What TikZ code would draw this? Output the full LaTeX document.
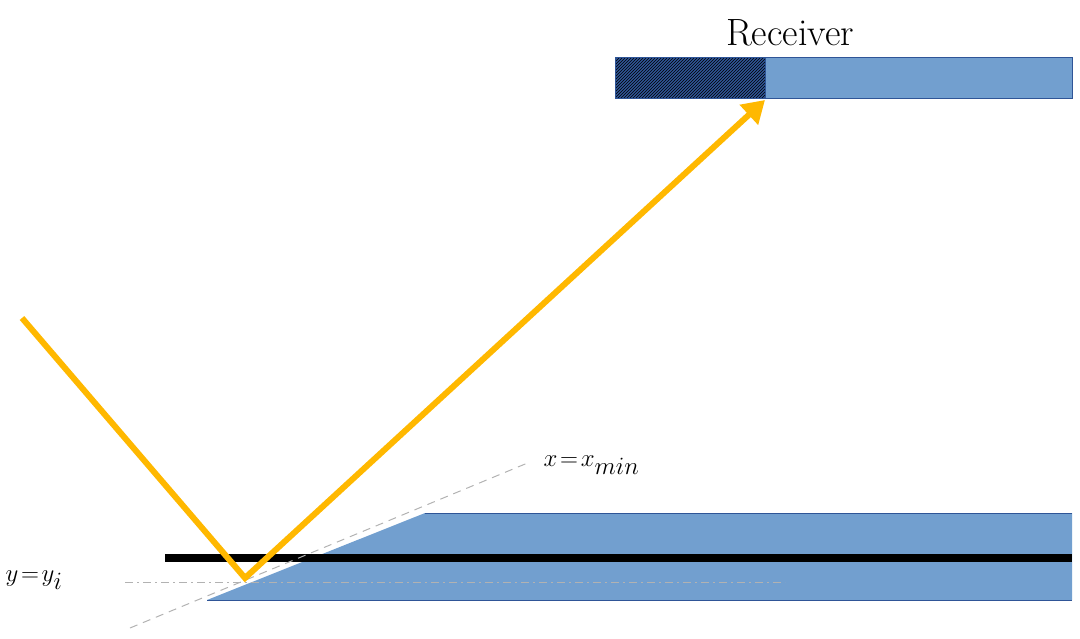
\documentclass[tikz,border=0pt]{standalone}
\usetikzlibrary{patterns,arrows.meta}
\definecolor{lb}{RGB}{114,159,207}
\definecolor{db}{RGB}{47,85,151}
\definecolor{ye}{RGB}{255,184,0}
\begin{document}
\begin{tikzpicture}[x=1pt,y=-1pt,
 edge/.style={draw=db,line width=1pt},
 guide/.style={draw=gray!60,line width=1pt,dash pattern=on 8pt off 4pt on 2pt off 4pt},
 ray/.style={draw=ye,line width=6pt}]
\useasboundingbox (0,0) rectangle (1080,638);
\fill[lb] (207,600) -- (425,513) -- (1072,513) -- (1072,600) -- cycle;
\draw[db,line width=1pt] (207,600) -- (1072,600) (425,513) -- (1072,513);
\draw[line width=8pt] (165,558) -- (1072,558);
\draw[guide] (125,582) -- (785,582);
\draw[draw=gray!60,line width=1pt,dash pattern=on 8pt off 6pt] (130,628) -- (530,462);
\node[anchor=west,font=\itshape\fontsize{36}{40}\selectfont] (xl) at (540,465) {$x\!=\!x_{min}$};
\node[anchor=west,font=\fontsize{36}{40}\selectfont] (yl) at (2,580) {$y\!=\!y_i$};
\fill[lb] (615,57) rectangle (1072,98);
\draw[db,line width=1pt] (615,57) rectangle (1072,98);
\fill[db] (615,57) rectangle (765,98);
\fill[pattern=north east lines,pattern color=black] (615,57) rectangle (765,98);
\draw[db,line width=1pt] (615,57) rectangle (765,98);
\coordinate (rc) at (765,100);
\node[font=\fontsize{38}{42}\selectfont] (rl) at (790,33) {Receiver};
\coordinate (s) at (22,318);
\coordinate (p) at (245,578);
\draw[ray,line join=miter,-{Triangle[length=22pt,width=26pt]}] (s) -- (p) -- (rc);
\end{tikzpicture}
\end{document}
